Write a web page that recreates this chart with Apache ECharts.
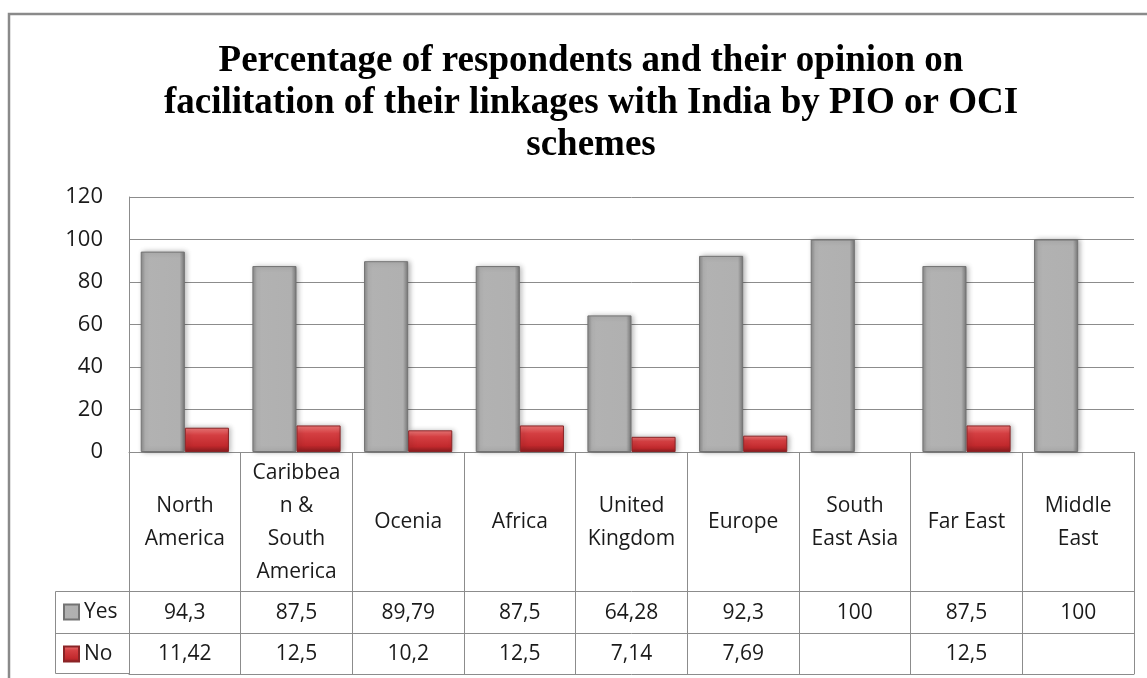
<!DOCTYPE html>
<html>
<head>
<meta charset="utf-8">
<script src="https://cdn.jsdelivr.net/npm/echarts@6/dist/echarts.min.js"></script>
<style>
  html, body {margin: 0; padding: 0; background: #fff;}
  #chart {width: 1147px; height: 678px;}
</style>
</head>
<body>
<div id="chart"></div>
<script>
const categories = ['North America', 'Caribbean & South America', 'Ocenia', 'Africa', 'United Kingdom',
    'Europe', 'South East Asia', 'Far East', 'Middle East'];
const yesValues = [94.3, 87.5, 89.79, 87.5, 64.28, 92.3, 100, 87.5, 100];
const noValues = [11.42, 12.5, 10.2, 12.5, 7.14, 7.69, null, 12.5, null];
const yTicks = [0, 20, 40, 60, 80, 100, 120];

// how Excel wrapped the header cells
const wrapped = {
    'North America': 'North\nAmerica',
    'Caribbean & South America': 'Caribbea\nn &\nSouth\nAmerica',
    'United Kingdom': 'United\nKingdom',
    'South East Asia': 'South\nEast Asia',
    'Middle East': 'Middle\nEast'
};

const fmt = v => (v === null || v === undefined) ? '' : String(v).replace('.', ',');
const font = '"Open Sans", "Noto Sans", sans-serif';
const lineCol = '#8c8c8c';

const chart = echarts.init(document.getElementById('chart'));

// one axis per table row: axis line = row top border, ticks = cell dividers
const tableAxis = (offset, rowH, formatter, extra) => Object.assign({
    type: 'category',
    data: categories,
    position: 'bottom',
    offset: offset,
    axisLine: {show: true, lineStyle: {color: lineCol, width: 1}},
    axisTick: {show: true, length: rowH, interval: 0, lineStyle: {color: lineCol}},
    axisLabel: {
        show: true, interval: 0, margin: rowH / 2 + 1, verticalAlign: 'middle',
        fontFamily: font, fontSize: 21, color: '#1a1a1a', lineHeight: 33,
        formatter: formatter
    },
    splitLine: {show: false}
}, extra || {});

chart.setOption({
    backgroundColor: '#fff',
    animation: false,
    title: {
        text: 'Percentage of respondents and their opinion on\nfacilitation of their linkages with India by PIO or OCI\nschemes',
        left: 586,
        top: 35,
        textAlign: 'center',
        textStyle: {
            fontFamily: '"Liberation Serif", "Times New Roman", serif',
            fontWeight: 'bold',
            fontSize: 37,
            lineHeight: 42,
            color: '#000'
        }
    },
    legend: {
        orient: 'vertical',
        left: 63,
        top: 598,
        padding: 0,
        itemWidth: 15,
        itemHeight: 15,
        itemGap: 14,
        icon: 'rect',
        textStyle: {fontFamily: font, fontSize: 21, color: '#1a1a1a', lineHeight: 28},
        data: ['Yes', 'No']
    },
    grid: {left: 129, right: 13, top: 197, bottom: 226},
    xAxis: [
        tableAxis(0, 139, v => wrapped[v] || v),
        tableAxis(139, 42, (v, i) => fmt(yesValues[i])),
        tableAxis(181, 41, (v, i) => fmt(noValues[i])),
        tableAxis(222, 0, () => '', {axisTick: {show: false}, axisLabel: {show: false}})
    ],
    yAxis: {
        type: 'value',
        min: 0,
        max: yTicks[yTicks.length - 1],
        interval: 20,
        axisLine: {show: true, lineStyle: {color: lineCol}},
        axisTick: {show: false},
        axisLabel: {margin: 26, fontFamily: font, fontSize: 22, color: '#1a1a1a'},
        splitLine: {show: true, lineStyle: {color: lineCol, width: 1}}
    },
    graphic: [
        // outer chart border
        {type: 'rect', shape: {x: 9, y: 14, width: 1160, height: 700},
            style: {fill: 'none', stroke: '#8a8a8a', lineWidth: 2.5}, silent: true},
        // legend cell of the data table
        {type: 'rect', shape: {x: 55.5, y: 591.5, width: 74, height: 82},
            style: {fill: 'none', stroke: lineCol, lineWidth: 1}, silent: true},
        {type: 'line', shape: {x1: 55.5, y1: 633.5, x2: 129.5, y2: 633.5},
            style: {stroke: lineCol, lineWidth: 1}, silent: true}
    ],
    series: [
        {
            name: 'Yes',
            type: 'bar',
            barGap: '0%',
            barCategoryGap: '21%',
            data: yesValues,
            itemStyle: {
                color: new echarts.graphic.LinearGradient(0, 0, 1, 0, [
                    {offset: 0, color: '#8a8a8a'},
                    {offset: 0.1, color: '#b2b2b2'},
                    {offset: 0.88, color: '#b0b0b0'},
                    {offset: 1, color: '#777777'}
                ]),
                borderColor: '#737373',
                borderWidth: 1,
                shadowBlur: 5,
                shadowOffsetX: 2,
                shadowColor: 'rgba(0,0,0,0.3)'
            }
        },
        {
            name: 'No',
            type: 'bar',
            data: noValues,
            itemStyle: {
                color: new echarts.graphic.LinearGradient(0, 0, 0, 1, [
                    {offset: 0, color: '#f07a7a'},
                    {offset: 0.3, color: '#d43f42'},
                    {offset: 0.75, color: '#c2292d'},
                    {offset: 1, color: '#8c1c1f'}
                ]),
                borderColor: '#8a2426',
                borderWidth: 1,
                shadowBlur: 5,
                shadowOffsetX: 2,
                shadowColor: 'rgba(0,0,0,0.3)'
            }
        }
    ]
});
</script>
</body>
</html>
